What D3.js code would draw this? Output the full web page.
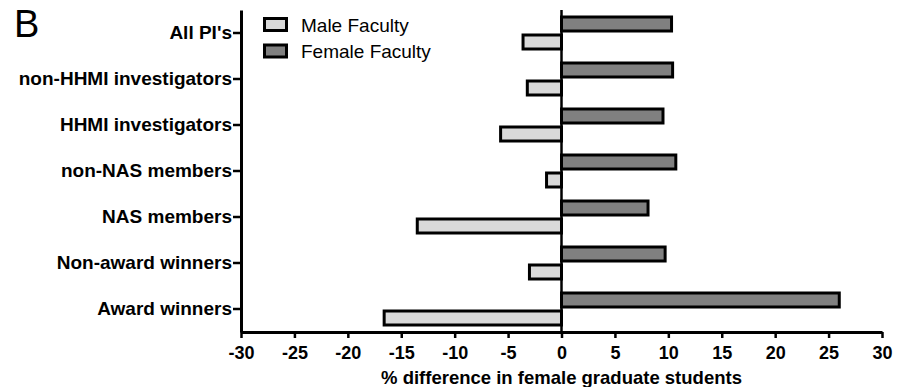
<!DOCTYPE html>
<html>
<head>
<meta charset="utf-8">
<script src="https://cdn.jsdelivr.net/npm/d3@7/dist/d3.min.js"></script>
<style>
  html, body { margin: 0; padding: 0; background: #fff; }
  svg { display: block; font-family: "Liberation Sans", Arial, sans-serif; }
</style>
</head>
<body>
<svg id="chart" width="909" height="387"></svg>
<script>
// Groups of principal investigators, top to bottom
const categories = [
  "All PI's",
  "non-HHMI investigators",
  "HHMI investigators",
  "non-NAS members",
  "NAS members",
  "Non-award winners",
  "Award winners"
];
// % difference in female graduate students
const femaleFaculty = [10.3, 10.4, 9.5, 10.7, 8.1, 9.7, 26.0];
const maleFaculty = [-3.6, -3.2, -5.7, -1.4, -13.5, -3.0, -16.6];
const xTicks = [-30, -25, -20, -15, -10, -5, 0, 5, 10, 15, 20, 25, 30];
const seriesNames = ["Male Faculty", "Female Faculty"];
const seriesFills = ["#d9d9d9", "#808080"];

const svg = d3.select("#chart");
const plotLeft = 241, plotRight = 882, plotTop = 10, plotBottom = 332;
const fontFamily = "Liberation Sans, Arial, sans-serif";

const x = d3.scaleLinear().domain([-30, 30]).range([plotLeft, plotRight]);
const y = d3.scaleBand().domain(categories).range([plotTop, plotBottom]);

const barH = 14, gap = 4;

// Female bars sit above each category tick, male bars below
svg.append("g").selectAll("rect")
  .data(categories.map((c, i) => ({ c, v: femaleFaculty[i] })))
  .join("rect")
  .attr("x", d => x(Math.min(0, d.v)))
  .attr("y", d => y(d.c) + y.bandwidth() / 2 - gap / 2 - barH)
  .attr("width", d => Math.abs(x(d.v) - x(0)))
  .attr("height", barH)
  .attr("fill", seriesFills[1])
  .attr("stroke", "#000")
  .attr("stroke-width", 3);

svg.append("g").selectAll("rect")
  .data(categories.map((c, i) => ({ c, v: maleFaculty[i] })))
  .join("rect")
  .attr("x", d => x(Math.min(0, d.v)))
  .attr("y", d => y(d.c) + y.bandwidth() / 2 + gap / 2)
  .attr("width", d => Math.abs(x(d.v) - x(0)))
  .attr("height", barH)
  .attr("fill", seriesFills[0])
  .attr("stroke", "#000")
  .attr("stroke-width", 3);

// Zero line
svg.append("line")
  .attr("x1", x(0)).attr("x2", x(0))
  .attr("y1", plotTop).attr("y2", plotBottom)
  .attr("stroke", "#000").attr("stroke-width", 2.5);

// X axis (plain hyphen for negative numbers)
const xAxis = svg.append("g")
  .attr("transform", `translate(0,${plotBottom})`)
  .call(d3.axisBottom(x).tickValues(xTicks).tickFormat(d => String(d)).tickSize(6).tickSizeOuter(0));
xAxis.select(".domain").attr("stroke", "#000").attr("stroke-width", 3);
xAxis.selectAll(".tick line").attr("stroke", "#000").attr("stroke-width", 2.5);
xAxis.selectAll(".tick text")
  .attr("y", 14)
  .attr("font-size", 18).attr("font-weight", "bold")
  .attr("font-family", fontFamily)
  .attr("fill", "#000");

// Y axis
const yAxis = svg.append("g")
  .attr("transform", `translate(${plotLeft},0)`)
  .call(d3.axisLeft(y).tickSize(8).tickSizeOuter(0));
yAxis.select(".domain").attr("stroke", "#000").attr("stroke-width", 3);
yAxis.selectAll(".tick line").attr("stroke", "#000").attr("stroke-width", 2.5);
yAxis.selectAll(".tick text")
  .attr("x", -9)
  .attr("font-size", 19).attr("font-weight", "bold")
  .attr("font-family", fontFamily)
  .attr("fill", "#000");

// Axis title
svg.append("text")
  .attr("x", x(0)).attr("y", 384)
  .attr("text-anchor", "middle")
  .attr("font-size", 18.5).attr("font-weight", "bold")
  .text("% difference in female graduate students");

// Panel letter
svg.append("text")
  .attr("x", 14).attr("y", 37)
  .attr("font-size", 38)
  .text("B");

// Legend
const legend = svg.append("g").attr("transform", "translate(263,17)");
seriesNames.forEach((name, i) => {
  const g = legend.append("g").attr("transform", `translate(0,${i * 26.5})`);
  g.append("rect")
    .attr("x", 1.5).attr("y", 1.5)
    .attr("width", 22).attr("height", 12)
    .attr("fill", seriesFills[i])
    .attr("stroke", "#000").attr("stroke-width", 3);
  g.append("text")
    .attr("x", 38).attr("y", 14.5)
    .attr("font-size", 19)
    .text(name);
});
</script>
</body>
</html>
